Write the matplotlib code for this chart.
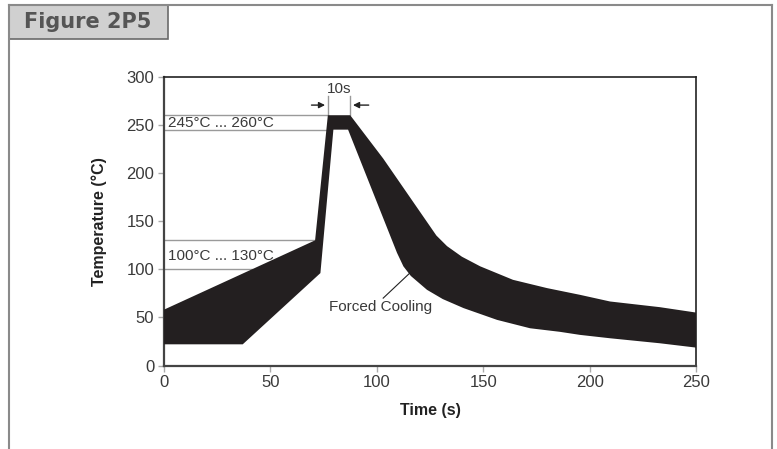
import numpy as np
import matplotlib.pyplot as plt
from matplotlib.patches import Rectangle
from matplotlib.lines import Line2D

# reflow profile band (time in s, temperature in degC)
upper_t = [0, 71, 77, 87.5, 103, 128, 133, 140, 148.6, 164, 180, 195.5, 209.6, 233, 250]
upper_T = [58, 130, 260, 260, 215, 135, 124, 113, 103, 89, 80.4, 73.4, 66.5, 60.6, 55]
lower_t = [0, 37, 73.5, 79.6, 86.5, 109.5, 112.5, 116, 123.6, 131, 140.8, 156.5,
           172, 186, 195.5, 209.6, 233, 250]
lower_T = [22, 22, 96, 245, 245, 117, 103, 93, 78.6, 69, 59.6, 47.4,
           38.7, 35, 31.8, 28.3, 23.1, 18.6]

# reference lines: (temperature, end time)
ref_T = [260, 245, 130, 100]
ref_end = [77, 76.3, 71, 41.4]

peak_start = 77
peak_end = 87.5

x_ticks = [0, 50, 100, 150, 200, 250]
y_ticks = [0, 50, 100, 150, 200, 250, 300]

plt.rcParams['font.family'] = ['Liberation Sans', 'DejaVu Sans']
TXT = '#3a3a3a'
BAND = '#231f20'
GRID = '#9a9a9a'

fig = plt.figure(figsize=(7.77, 4.49), dpi=100)
ax = fig.add_axes([164/777, 83.5/449, 532/777, 288.8/449])

band_t = np.concatenate([upper_t, lower_t[::-1]])
band_T = np.concatenate([upper_T, lower_T[::-1]])
ax.fill(band_t, band_T, color=BAND, lw=0, zorder=3)

for T, te in zip(ref_T, ref_end):
  ax.plot([0, te], [T, T], color=GRID, lw=1, zorder=2)

ax.text(2, 252, '245°C ... 260°C', fontsize=11, color=TXT, va='center', ha='left')
ax.text(2, 114, '100°C ... 130°C', fontsize=11, color=TXT, va='center', ha='left')

# 10s dimension
ax.plot([peak_start, peak_start], [260, 280], color=GRID, lw=1)
ax.plot([peak_end, peak_end], [260, 280], color=GRID, lw=1)
ax.annotate('', xy=(peak_start, 270.5), xytext=(68, 270.5),
            arrowprops=dict(arrowstyle='-|>', color='#222222', lw=1, mutation_scale=9))
ax.annotate('', xy=(peak_end, 270.5), xytext=(97.5, 270.5),
            arrowprops=dict(arrowstyle='-|>', color='#222222', lw=1, mutation_scale=9))
ax.text((peak_start+peak_end)/2, 287, '10s', fontsize=11, color=TXT, ha='center', va='center')

# forced cooling label
ax.plot([103, 115.5], [70, 96], color='#222222', lw=0.8, zorder=4)
ax.text(77.5, 61, 'Forced Cooling', fontsize=11, color=TXT, ha='left', va='center')

ax.set_xlim(0, 250)
ax.set_ylim(0, 300)
ax.set_xticks(x_ticks)
ax.set_yticks(y_ticks)
ax.tick_params(direction='out', length=4, width=1, color='#aaaaaa', labelsize=12,
               labelcolor=TXT, pad=3)
for s in ['left', 'bottom']:
  ax.spines[s].set_linewidth(1.6)
  ax.spines[s].set_color('#444444')
for s in ['top', 'right']:
  ax.spines[s].set_linewidth(1.2)
  ax.spines[s].set_color('#222222')

ax.set_xlabel('Time (s)', fontsize=11.5, fontweight='bold', color='#222222', labelpad=9)
ax.set_ylabel('Temperature (°C)', fontsize=11.5, fontweight='bold', color='#222222', labelpad=14)

# outer panel frame and figure tag
W, H = 777, 449
fig.add_artist(Line2D([9/W, 9/W], [0, 1-5/H], color='#8a8a8a', lw=1.5))
fig.add_artist(Line2D([772/W, 772/W], [0, 1-5/H], color='#8a8a8a', lw=1.5))
fig.add_artist(Line2D([9/W, 772/W], [1-5/H, 1-5/H], color='#8a8a8a', lw=1.5))
fig.add_artist(Rectangle((9/W, 1-39/H), 159/W, 34/H, facecolor='#d0d0d0',
                         edgecolor='#6a6a6a', lw=1.2))
fig.text(24/W, 1-22/H, 'Figure 2P5', fontsize=15, fontweight='bold', color='#555555',
         ha='left', va='center', family=['DejaVu Sans'])

fig.savefig('out.png', dpi=100)
